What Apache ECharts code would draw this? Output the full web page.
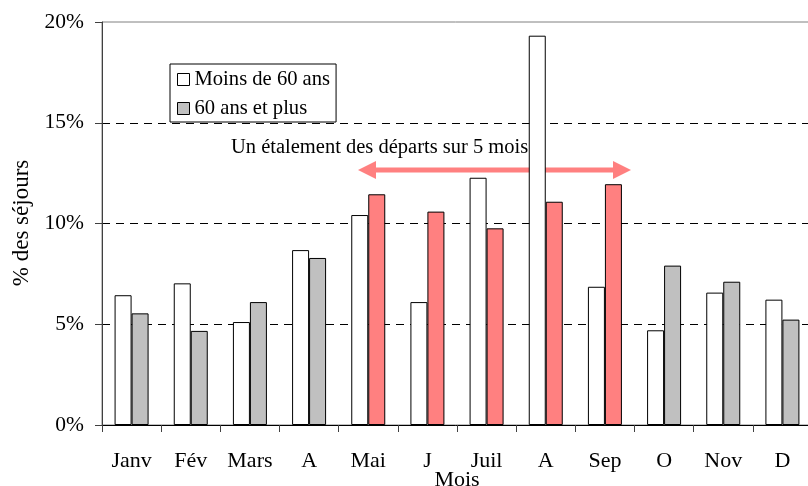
<!DOCTYPE html>
<html>
<head>
<meta charset="utf-8">
<script src="https://cdn.jsdelivr.net/npm/echarts@6/dist/echarts.min.js"></script>
<style>
  html, body { margin: 0; padding: 0; background: #fff; }
  #main { width: 808px; height: 486px; }
</style>
</head>
<body>
<div id="main"></div>
<script>
// données
var mois = ['Janv', 'Fév', 'Mars', 'A', 'Mai', 'J', 'Juil', 'A', 'Sep', 'O', 'Nov', 'D'];
var moins60 = [6.44, 7.03, 5.11, 8.68, 10.42, 6.10, 12.27, 19.32, 6.86, 4.70, 6.57, 6.22];
var plus60 = [5.54, 4.67, 6.10, 8.29, 11.45, 10.59, 9.76, 11.08, 11.95, 7.91, 7.11, 5.23];
var moisEtales = [4, 5, 6, 7, 8]; // Mai -> Sep en rouge
var yTicks = [0, 5, 10, 15, 20];

var font = 'Liberation Serif';
var myChart = echarts.init(document.getElementById('main'));

var plusData = plus60.map(function (v, i) {
    if (moisEtales.indexOf(i) >= 0) {
        return { value: v, itemStyle: { color: '#FF8080' } };
    }
    return v;
});

var options = {
    animation: false,
    textStyle: { fontFamily: font, color: '#000' },
    grid: {
        left: 102, right: -4, top: 22, bottom: 61,
        outerBoundsMode: 'none',
        containLabel: false,
        show: true, borderColor: '#808080', borderWidth: 1,
        backgroundColor: 'transparent'
    },
    legend: {
        orient: 'vertical',
        left: 170, top: 64,
        padding: [5, 6, 3, 7],
        borderColor: '#000', borderWidth: 1,
        itemWidth: 12, itemHeight: 12, itemGap: 8,
        icon: 'rect',
        textStyle: { fontFamily: font, fontSize: 20.6, color: '#000', lineHeight: 20 },
        data: [
            { name: 'Moins de 60 ans', itemStyle: { color: '#fff', borderColor: '#000', borderWidth: 1 } },
            { name: '60 ans et plus', itemStyle: { color: '#C0C0C0', borderColor: '#000', borderWidth: 1 } }
        ]
    },
    xAxis: {
        type: 'category',
        data: mois,
        name: 'Mois',
        nameLocation: 'middle',
        nameGap: 44,
        nameMoveOverlap: false,
        nameTextStyle: { fontFamily: font, fontSize: 22, color: '#000' },
        axisLine: { lineStyle: { color: '#000', width: 1 } },
        axisTick: { show: true, interval: 0, length: 7, lineStyle: { color: '#404040' } },
        axisLabel: { interval: 0, margin: 25, fontFamily: font, fontSize: 22, color: '#000' }
    },
    yAxis: {
        type: 'value',
        min: 0, max: 20, interval: 5,
        axisLine: { show: true, lineStyle: { color: '#404040', width: 1 } },
        axisTick: { show: true, length: 7, lineStyle: { color: '#404040' } },
        axisLabel: {
            margin: 18, fontFamily: font, fontSize: 21.5, color: '#000',
            formatter: function (v) { return yTicks.indexOf(v) >= 0 ? v + '%' : ''; }
        },
        splitLine: {
            show: true,
            lineStyle: { type: [8, 6], color: ['transparent', '#000', '#000', '#000', 'transparent'], width: 1 }
        }
    },
    series: [
        {
            name: 'Moins de 60 ans',
            type: 'bar',
            barWidth: 17,
            barGap: '0%',
            itemStyle: { color: '#fff', borderColor: '#000', borderWidth: 1 },
            data: moins60
        },
        {
            name: '60 ans et plus',
            type: 'bar',
            barWidth: 17,
            barGap: '0%',
            itemStyle: { color: '#C0C0C0', borderColor: '#000', borderWidth: 1 },
            data: plusData
        }
    ],
    graphic: [
        {
            type: 'text',
            x: 22, y: 223, rotation: Math.PI / 2,
            style: {
                text: '% des séjours', font: '23px "Liberation Serif"', fill: '#000',
                align: 'center', verticalAlign: 'middle'
            }
        },
        {
            type: 'text',
            x: 231, y: 148,
            style: {
                text: 'Un étalement des départs sur 5 mois', font: '20.5px "Liberation Serif"', fill: '#000',
                align: 'left', verticalAlign: 'middle'
            }
        },
        {
            type: 'line',
            shape: { x1: 370, y1: 170, x2: 619, y2: 170 },
            style: { stroke: '#FF8080', lineWidth: 5 }
        },
        {
            type: 'polygon',
            shape: { points: [[358, 170], [376, 161], [376, 179]] },
            style: { fill: '#FF8080' }
        },
        {
            type: 'polygon',
            shape: { points: [[631, 170], [613, 161], [613, 179]] },
            style: { fill: '#FF8080' }
        }
    ]
};

myChart.setOption(options, true);
</script>
</body>
</html>
